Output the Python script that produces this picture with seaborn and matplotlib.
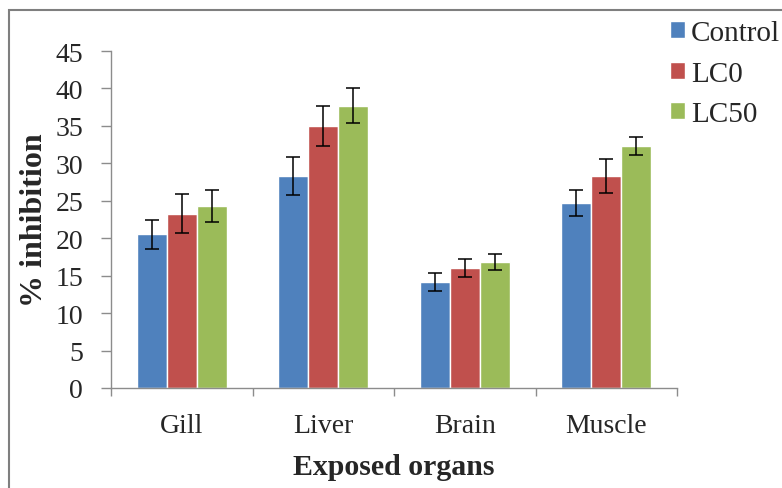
import numpy as np
import pandas as pd
import matplotlib
matplotlib.use("Agg")
import matplotlib.pyplot as plt
import seaborn as sns
from matplotlib.patches import Rectangle

# data
organs = ["Gill", "Liver", "Brain", "Muscle"]
groups = ["Control", "LC0", "LC50"]
control = [20.5, 28.3, 14.2, 24.7]
lc0 = [23.3, 35.0, 16.0, 28.3]
lc50 = [24.3, 37.7, 16.8, 32.3]
control_err = [2.0, 2.5, 1.2, 1.7]
lc0_err = [2.6, 2.7, 1.2, 2.3]
lc50_err = [2.2, 2.3, 1.1, 1.2]

colors = ["#4F81BD", "#C0504D", "#9BBB59"]

sns.set_style("white")
plt.rcParams['font.family'] = ['Liberation Serif', 'DejaVu Serif']

df = pd.DataFrame({
    "organ": organs * 3,
    "group": [g for g in groups for _ in organs],
    "value": control + lc0 + lc50,
    "err": control_err + lc0_err + lc50_err,
})

fig = plt.figure(figsize=(7.82, 4.89), dpi=100)
ax = fig.add_axes([111 / 782, 1 - 389 / 489, (677 - 111) / 782, (389 - 52) / 489])

sns.barplot(data=df, x="organ", y="value", hue="group", order=organs,
            hue_order=groups, palette=colors, width=0.636, errorbar=None,
            saturation=1, ax=ax, legend=True)

# error bars placed on the bars seaborn drew
for container, g in zip(ax.containers, groups):
    sub = df[df.group == g].set_index("organ").loc[organs]
    xs = [p.get_x() + p.get_width() / 2 for p in container.patches]
    ys = [p.get_height() for p in container.patches]
    ax.errorbar(xs, ys, yerr=sub["err"].values, fmt="none", ecolor="black",
                elinewidth=1.1, capsize=4.7, capthick=1.1, zorder=5)

ax.set_ylim(0, 45)
ax.set_xlim(-0.5, 3.5)
ax.set_yticks(np.arange(0, 46, 5))
ax.tick_params(axis="y", labelsize=20, length=7, width=1, color="#8c8c8c",
               direction="out", left=True, pad=13)
ax.set_xticks([0, 1, 2, 3])
ax.set_xticklabels(organs, fontsize=20)
ax.tick_params(axis="x", length=0, pad=18)
# category separator ticks
ax.set_xticks([-0.5, 0.5, 1.5, 2.5, 3.5], minor=True)
ax.tick_params(axis="x", which="minor", length=6, width=1, color="#8c8c8c",
               direction="out", bottom=True)

for s in ["top", "right"]:
    ax.spines[s].set_visible(False)
for s in ["left", "bottom"]:
    ax.spines[s].set_color("#8c8c8c")
    ax.spines[s].set_linewidth(1)

ax.set_xlabel("Exposed organs", fontsize=21.5, fontweight="bold", labelpad=11)
ax.set_ylabel("% inhibition", fontsize=23, fontweight="bold", labelpad=5)

handles, labels = ax.get_legend_handles_labels()
ax.legend(handles, labels, loc="upper left",
          bbox_to_anchor=(670 / 782, 1 - 21 / 489),
          bbox_transform=fig.transFigure, frameon=False, fontsize=21,
          handlelength=0.52, handleheight=0.52, handletextpad=0.2,
          labelspacing=0.5, borderaxespad=0, borderpad=0)

# outer frame of the original picture
fig.patches.append(Rectangle((9 / 782, -0.1), 1.2, 1 - 11 / 489 + 0.1,
                             transform=fig.transFigure, fill=False,
                             edgecolor="#7f7f7f", linewidth=1.5))

fig.savefig("out.png", dpi=100)
